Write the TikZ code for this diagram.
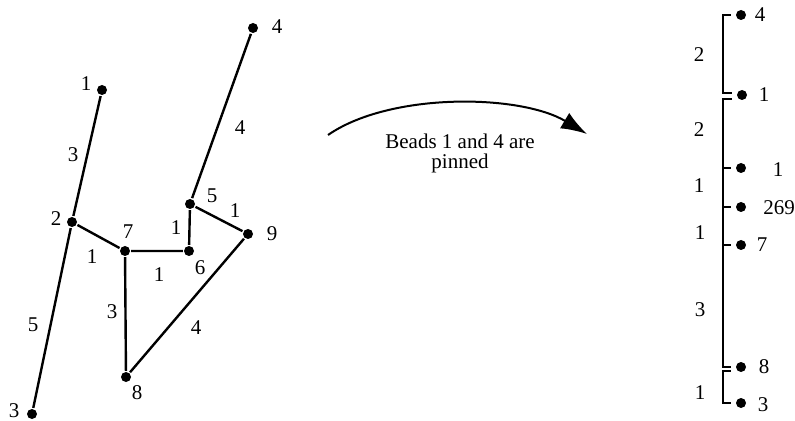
\documentclass[tikz,border=0pt]{standalone}
\usepackage{fontspec}
\setmainfont{Liberation Serif}
\usetikzlibrary{arrows.meta,calc}
\tikzset{bead/.style={circle,fill,inner sep=0pt,minimum size=5pt}}

\begin{document}
\begin{tikzpicture}[x=0.5pt,y=-0.5pt,line width=1.2pt,font=\fontsize{10.5}{10}\selectfont]
  \useasboundingbox (0,0) rectangle (795,421);
  % chain before pinning
  \node[bead] (n1) at (102,90) {};
  \node[bead] (n2) at (72,222) {};
  \node[bead] (n3) at (32,414) {};
  \node[bead] (n4) at (253,28) {};
  \node[bead] (n5) at (190,204) {};
  \node[bead] (n6) at (189,251) {};
  \node[bead] (n7) at (125,251) {};
  \node[bead] (n8) at (126,377) {};
  \node[bead] (n9) at (248,234) {};
  \node (t1) at (86,84) {1};
  \node (t2) at (56,219) {2};
  \node[inner sep=0pt] (t3) at (14,411) {3};
  \node (t4) at (277,27) {4};
  \node (t5) at (212,196) {5};
  \node (t6) at (200,268) {6};
  \node (t7) at (128,232) {7};
  \node (t8) at (137,393) {8};
  \node (t9) at (272,234) {9};
  \draw (n1) -- (n2) -- (n3);
  \draw (n2) -- (n7) -- (n6) -- (n5) -- (n4);
  \draw (n5) -- (n9) -- (n8) -- (n7);
  \node (e12) at (73,155) {3};
  \node (e23) at (33,325) {5};
  \node (e27) at (92,257) {1};
  \node (e76) at (159,275) {1};
  \node (e65) at (176,228) {1};
  \node (e54) at (240,128) {4};
  \node (e59) at (235,211) {1};
  \node (e98) at (196,328) {4};
  \node (e78) at (112,312) {3};
  % arrow
  \coordinate (from) at (328,135);
  \coordinate (to) at (587,134);
  \draw[line width=1pt,-{Latex[length=13pt,width=9pt]}] (from) .. controls (390,92) and (520,94) .. (to);
  \node[align=center] (pin) at (460,153) {Beads 1 and 4 are\\pinned};
  % chain after pinning
  \node[bead] (r4) at (741,15) {};
  \node[bead] (r1) at (742,95) {};
  \node[bead] (r1b) at (741,168) {};
  \node[bead] (r269) at (741,207) {};
  \node[bead] (r7) at (741,245) {};
  \node[bead] (r8) at (741,367) {};
  \node[bead] (r3) at (741,403) {};
  \node (s4) at (760,15) {4};
  \node (s1) at (764,95) {1};
  \node (s1b) at (778,170) {1};
  \node (s269) at (779,208) {269};
  \node (s7) at (762,245) {7};
  \node (s8) at (764,367) {8};
  \node (s3) at (763,405) {3};
  \coordinate (k1) at (723,55);
  \coordinate (k2) at (723,130);
  \coordinate (k3) at (723,186);
  \coordinate (k4) at (723,226);
  \coordinate (k5) at (723,306);
  \coordinate (k6) at (723,388);
  \draw ([xshift=-2pt]r4.west) -| (k1) |- ([xshift=-2pt,yshift=1pt]r1.west);
  \draw ([xshift=-2pt,yshift=-2pt]r1.west) -| (k2) |- ([xshift=-2pt]r1b.west);
  \draw ([xshift=-2pt]r1b.west) -| (k3) |- ([xshift=-2pt]r269.west);
  \draw ([xshift=-2pt]r269.west) -| (k4) |- ([xshift=-2pt]r7.west);
  \draw ([xshift=-2pt]r7.west) -| (k5) |- ([xshift=-2pt]r8.west);
  \draw ([xshift=-2pt,yshift=-2pt]r8.west) -| (k6) |- ([xshift=-2pt]r3.west);
  \node (l1) at (699,55) {2};
  \node (l2) at (699,130) {2};
  \node (l3) at (699,186) {1};
  \node (l4) at (700,233) {1};
  \node (l5) at (700,310) {3};
  \node (l6) at (700,393) {1};
\end{tikzpicture}
\end{document}
